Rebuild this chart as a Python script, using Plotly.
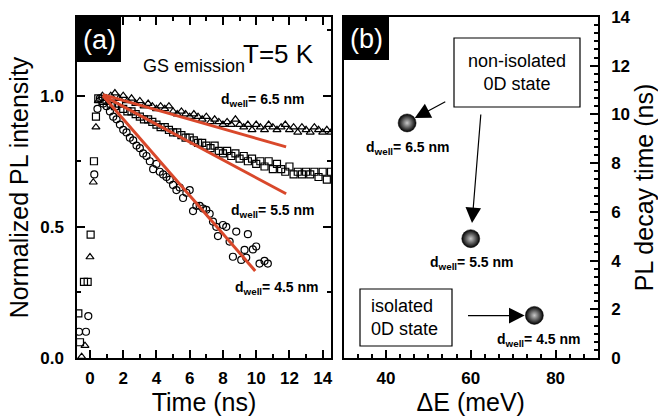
import plotly.graph_objects as go

FONT = "Liberation Sans, Arial, sans-serif"
RED = "#d9482b"

# ---------------- Panel (a): normalized PL transients ----------------
# d_well = 6.5 nm (triangles)
t_tri = [-0.5, -0.3, 0.0, 0.2, 0.36,
         0.5, 0.75, 1.0, 1.25, 1.5, 1.75, 2.0, 2.25, 2.5, 2.75,
         3.0, 3.25, 3.5, 3.75, 4.0, 4.25, 4.5, 4.75, 5.0, 5.25,
         5.5, 5.75, 6.0, 6.25, 6.5, 6.75, 7.0, 7.25, 7.5, 7.75,
         8.0, 8.25, 8.5, 8.75, 9.0, 9.25, 9.5, 9.75, 10.0, 10.25,
         10.5, 10.75, 11.0, 11.25, 11.5, 11.75, 12.0, 12.25, 12.5, 12.75,
         13.0, 13.25, 13.5, 13.75, 14.0, 14.25, 14.5]
I_tri = [0.005, 0.047, 0.385, 0.67, 0.88,
         0.98, 1.00, 0.99, 1.00, 1.01, 0.99, 1.00, 0.98, 0.99, 0.97,
         0.98, 0.96, 0.97, 0.96, 0.95, 0.96, 0.95, 0.96, 0.94, 0.93,
         0.94, 0.93, 0.92, 0.93, 0.92, 0.91, 0.92, 0.90, 0.91, 0.90,
         0.89, 0.90, 0.89, 0.91, 0.89, 0.88, 0.89, 0.87, 0.89, 0.88,
         0.87, 0.89, 0.88, 0.87, 0.88, 0.89, 0.87, 0.88, 0.86, 0.88,
         0.87, 0.86, 0.88, 0.87, 0.86, 0.87, 0.86]

# d_well = 5.5 nm (squares)
t_sq = [-0.7, -0.6, -0.36, -0.14, 0.04, 0.24, 0.36,
        0.5, 0.75, 1.0, 1.25, 1.5, 1.75, 2.0, 2.25, 2.5, 2.75,
        3.0, 3.25, 3.5, 3.75, 4.0, 4.25, 4.5, 4.75, 5.0, 5.25,
        5.5, 5.75, 6.0, 6.25, 6.5, 6.75, 7.0, 7.25, 7.5, 7.75,
        8.0, 8.25, 8.5, 8.75, 9.0, 9.25, 9.5, 9.75, 10.0, 10.25,
        10.5, 10.75, 11.0, 11.25, 11.5, 11.75, 12.0, 12.25, 12.5, 12.75,
        13.0, 13.25, 13.5, 13.75, 14.0, 14.25, 14.5]
I_sq = [0.17, 0.06, 0.29, 0.29, 0.47, 0.75, 0.92,
        0.99, 0.98, 0.98, 0.97, 0.96, 0.97, 0.95, 0.94, 0.94, 0.93,
        0.92, 0.91, 0.91, 0.90, 0.89, 0.88, 0.88, 0.87, 0.86, 0.86,
        0.85, 0.84, 0.84, 0.83, 0.82, 0.82, 0.81, 0.80, 0.81, 0.79,
        0.78, 0.79, 0.77, 0.78, 0.76, 0.77, 0.75, 0.76, 0.74, 0.75,
        0.73, 0.75, 0.72, 0.74, 0.72, 0.71, 0.73, 0.70, 0.71, 0.70,
        0.71, 0.70, 0.71, 0.69, 0.71, 0.68, 0.71]

# d_well = 4.5 nm (circles)
t_circ = [-0.66, -0.24, -0.1, 0.26, 0.45,
          0.6, 0.8, 1.0, 1.2, 1.4, 1.6, 1.8, 2.0, 2.2, 2.4,
          2.6, 2.8, 3.0, 3.2, 3.4, 3.6, 3.8, 4.0, 4.2, 4.4,
          4.6, 4.8, 5.0, 5.2, 5.4, 5.6, 5.8, 6.0, 6.2, 6.4,
          6.6, 6.8, 7.0, 7.2, 7.4, 7.6,
          7.7, 8.0, 8.2, 8.4, 8.6, 8.8, 9.1, 9.3, 9.4, 9.5,
          9.8, 10.0, 10.2, 10.5, 10.7]
I_circ = [0.10, 0.10, 0.16, 0.70, 0.95,
          0.99, 0.97, 0.96, 0.94, 0.92, 0.91, 0.89, 0.87, 0.86, 0.84,
          0.83, 0.81, 0.80, 0.78, 0.77, 0.75, 0.72, 0.74, 0.71, 0.70,
          0.69, 0.68, 0.66, 0.64, 0.65, 0.61, 0.63, 0.64, 0.56, 0.58,
          0.58, 0.57, 0.565, 0.55, 0.52, 0.50,
          0.465, 0.507, 0.50, 0.444, 0.386, 0.482, 0.374, 0.412, 0.383, 0.472,
          0.414, 0.425, 0.36, 0.37, 0.36]

# single-exponential fits (straight on this scale), start/end points
fit_t0 = [0.78, 0.78, 0.78]
fit_t1 = [11.8, 11.8, 9.94]
fit_I0 = [1.004, 1.0, 1.0]
fit_I1 = [0.805, 0.626, 0.332]

# ---------------- Panel (b): decay time vs ΔE ----------------
dE = [45, 60, 75]
tau = [9.65, 4.9, 1.75]
well_labels = ["6.5", "5.5", "4.5"]

fig = go.Figure()

mk = dict(color="black", size=7, line=dict(color="black", width=1.2))
fig.add_trace(go.Scatter(x=t_tri, y=I_tri, mode="markers", xaxis="x", yaxis="y",
                         marker=dict(symbol="triangle-up-open", **mk)))
fig.add_trace(go.Scatter(x=t_sq, y=I_sq, mode="markers", xaxis="x", yaxis="y",
                         marker=dict(symbol="square-open", **mk)))
fig.add_trace(go.Scatter(x=t_circ, y=I_circ, mode="markers", xaxis="x", yaxis="y",
                         marker=dict(symbol="circle-open", **mk)))
for a, b, c, d in zip(fit_t0, fit_t1, fit_I0, fit_I1):
    fig.add_trace(go.Scatter(x=[a, b], y=[c, d], mode="lines", xaxis="x", yaxis="y",
                             line=dict(color=RED, width=3)))

fig.add_trace(go.Scatter(x=dE, y=tau, mode="markers", xaxis="x2", yaxis="y2",
                         marker=dict(symbol="circle", size=18, color="black",
                                     gradient=dict(type="radial", color="#c8c8c8"),
                                     line=dict(color="black", width=0.5))))

W, H = 658, 417
def px(x):
    return x / W
def py(y):
    return 1 - y / H

xa_dom = [px(77), px(331)]
xb_dom = [px(343.5), px(598)]
y_dom = [py(358), py(17)]

tickfont = dict(family=FONT, size=17, color="black", weight="bold")
titlefont = dict(family=FONT, size=25, color="black")
axcommon = dict(showline=True, linecolor="black", linewidth=1.5, ticks="inside",
                ticklen=8, tickwidth=1.5, tickcolor="black", showgrid=False,
                zeroline=False, tickfont=tickfont, automargin=False)

fig.update_layout(
    width=W, height=H, margin=dict(l=0, r=0, t=0, b=0, autoexpand=False),
    paper_bgcolor="white", plot_bgcolor="white", showlegend=False,
    font=dict(family=FONT, color="black"),
    xaxis=dict(domain=xa_dom, range=[-0.78, 14.5], tick0=0, dtick=2, anchor="y",
               mirror="allticks", ticklabelstandoff=4,
               minor=dict(dtick=1, ticks="inside", ticklen=4, tickwidth=1.5, tickcolor="black"),
               title=dict(text="Time (ns)", font=titlefont, standoff=0), **axcommon),
    yaxis=dict(domain=y_dom, range=[0, 1.3], tick0=0, dtick=0.5, tickformat=".1f", anchor="x",
               mirror="allticks", ticklabelstandoff=8,
               minor=dict(dtick=0.25, ticks="inside", ticklen=4, tickwidth=1.5, tickcolor="black"),
               title=dict(text="Normalized PL intensity", font=titlefont, standoff=4), **axcommon),
    xaxis2=dict(domain=xb_dom, range=[30, 90], tick0=0, dtick=20, anchor="y2",
                mirror=True, ticklabelstandoff=4,
                minor=dict(tick0=0, dtick=20 / 6, ticks="inside", ticklen=4, tickwidth=1.5, tickcolor="black"),
                title=dict(text="ΔE (meV)", font=titlefont, standoff=0), **axcommon),
    yaxis2=dict(domain=y_dom, range=[0, 14], tick0=0, dtick=2, anchor="x2", side="right",
                mirror=True, ticklabelstandoff=8,
                minor=dict(dtick=2 / 6, ticks="inside", ticklen=4, tickwidth=1.5, tickcolor="black"),
                title=dict(text="PL decay time (ns)", font=titlefont, standoff=4), **axcommon),
)

shapes = [
    dict(type="rect", xref="paper", yref="paper", x0=px(77), x1=px(121), y0=py(62), y1=py(17),
         fillcolor="black", line=dict(width=0)),
    dict(type="rect", xref="paper", yref="paper", x0=px(344), x1=px(389), y0=py(60), y1=py(17),
         fillcolor="black", line=dict(width=0)),
    dict(type="rect", xref="paper", yref="paper", x0=px(454), x1=px(580), y0=py(107), y1=py(38),
         fillcolor="white", line=dict(color="black", width=1.2)),
    dict(type="rect", xref="paper", yref="paper", x0=px(360), x1=px(452), y0=py(346), y1=py(289),
         fillcolor="white", line=dict(color="black", width=1.2)),
]
fig.update_layout(shapes=shapes)

def ann(text, x, y, size, color="black", xanchor="center", align="center"):
    return dict(text=text, xref="paper", yref="paper", x=px(x), y=py(y), xanchor=xanchor,
                yanchor="middle", showarrow=False, align=align,
                font=dict(family=FONT, size=size, color=color))

dsize = 14
annotations = [
    ann("(a)", 99, 40, 27, color="white"),
    ann("(b)", 366.5, 39, 27, color="white"),
    ann("T=5 K", 278, 54, 26),
    ann("GS emission", 194, 66, 18),
    ann("<b>d<sub>well</sub>= " + well_labels[0] + " nm</b>", 263, 100, dsize),
    ann("<b>d<sub>well</sub>= " + well_labels[1] + " nm</b>", 273, 211, dsize),
    ann("<b>d<sub>well</sub>= " + well_labels[2] + " nm</b>", 277, 288, dsize),
    ann("<b>d<sub>well</sub>= " + well_labels[0] + " nm</b>", 408, 148, dsize),
    ann("<b>d<sub>well</sub>= " + well_labels[1] + " nm</b>", 472, 263, dsize),
    ann("<b>d<sub>well</sub>= " + well_labels[2] + " nm</b>", 539, 340, dsize),
    ann("non-isolated<br>0D state", 517, 72, 18),
    ann("isolated<br>0D state", 369, 317, 18, xanchor="left", align="left"),
]

def arrow(xh, yh, xt, yt):
    return dict(x=xh, y=yh, ax=xt, ay=yt, xref="x2", yref="y2", axref="x2", ayref="y2",
                text="", showarrow=True, arrowhead=2, arrowsize=2.6, arrowwidth=1.2,
                arrowcolor="black", standoff=0)

annotations += [
    arrow(46.8, 9.85, 54.35, 10.55),
    arrow(60.3, 5.54, 62.4, 10.06),
    arrow(72.7, 1.74, 59.0, 1.74),
]
fig.update_layout(annotations=annotations)

fig.write_html("out.html", config={"displayModeBar": False},
               post_script="document.body.style.margin='0';document.body.style.padding='0';"
                           "document.body.style.overflow='hidden';")
